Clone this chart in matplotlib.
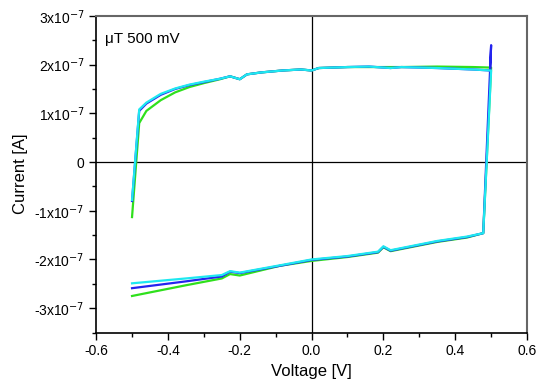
import numpy as np
import matplotlib.pyplot as plt
from matplotlib.ticker import MultipleLocator, FuncFormatter

plt.rcParams['font.family'] = ['Liberation Sans', 'DejaVu Sans']

# sweep voltage (shared by all three runs)
voltage = [-0.5, -0.48, -0.46, -0.42, -0.38, -0.34, -0.3, -0.255, -0.227, -0.2, -0.18, -0.14,
           -0.08, -0.03, 0.0, 0.02, 0.1, 0.16, 0.22, 0.25, 0.35, 0.45, 0.497, 0.5,
           0.478, 0.433, 0.35, 0.22, 0.2, 0.185, 0.1, 0.0, -0.088, -0.2, -0.227, -0.25, -0.35, -0.5]

# currents in units of 1e-7 A
i_green = [-1.13, 0.80, 1.05, 1.27, 1.43, 1.54, 1.62, 1.70, 1.76, 1.70, 1.80, 1.84,
           1.88, 1.90, 1.88, 1.93, 1.95, 1.95, 1.95, 1.95, 1.96, 1.95, 1.94, 1.94,
           -1.46, -1.55, -1.64, -1.83, -1.75, -1.86, -1.95, -2.03, -2.13, -2.33, -2.30, -2.39, -2.53, -2.75]
i_blue = [-0.80, 1.05, 1.20, 1.38, 1.50, 1.58, 1.64, 1.71, 1.76, 1.70, 1.80, 1.84,
          1.88, 1.90, 1.88, 1.93, 1.95, 1.96, 1.93, 1.95, 1.93, 1.90, 1.88, 2.40,
          -1.46, -1.54, -1.63, -1.82, -1.74, -1.85, -1.94, -2.01, -2.13, -2.28, -2.25, -2.35, -2.45, -2.59]
i_cyan = [-0.78, 1.08, 1.22, 1.40, 1.51, 1.59, 1.65, 1.71, 1.76, 1.70, 1.80, 1.84,
          1.88, 1.90, 1.88, 1.93, 1.95, 1.96, 1.93, 1.95, 1.93, 1.90, 1.88, 1.88,
          -1.46, -1.53, -1.62, -1.81, -1.73, -1.84, -1.93, -2.00, -2.12, -2.27, -2.24, -2.32, -2.39, -2.49]

fig = plt.figure(figsize=(5.4, 3.88), dpi=100)
ax = fig.add_axes([0.178, 0.143, 0.798, 0.816])

v = np.array(voltage)
for cur, col in [(i_green, '#2fe01c'), (i_blue, '#2424ee'), (i_cyan, '#1ee8f0')]:
    ax.plot(v, np.array(cur) * 1e-7, color=col, lw=1.6)

ax.axhline(0, color='black', lw=0.9, zorder=0)
ax.axvline(0, color='black', lw=0.9, zorder=0)

ax.set_xlim(-0.6, 0.6)
ax.set_ylim(-3.5e-7, 3e-7)
ax.xaxis.set_major_locator(MultipleLocator(0.2))
ax.xaxis.set_minor_locator(MultipleLocator(0.1))
ax.yaxis.set_major_locator(MultipleLocator(1e-7))
ax.yaxis.set_minor_locator(MultipleLocator(0.5e-7))
ax.xaxis.set_major_formatter(FuncFormatter(lambda x, p: '%.1f' % x))

def yfmt(y, p):
    n = int(round(y / 1e-7))
    if n == 0:
        return '0'
    return r'%dx10$^{-7}$' % n
ax.yaxis.set_major_formatter(FuncFormatter(yfmt))

ax.tick_params(which='major', direction='out', length=5, width=1, labelsize=10)
ax.tick_params(which='minor', direction='out', length=3, width=1)
for s in ['top', 'right']:
    ax.spines[s].set_color('#666666')
    ax.spines[s].set_linewidth(1.5)
for s in ['left', 'bottom']:
    ax.spines[s].set_linewidth(1.2)

ax.set_xlabel('Voltage [V]', fontsize=12)
ax.set_ylabel('Current [A]', fontsize=12)
ax.text(0.02, 0.95, 'μT 500 mV', transform=ax.transAxes, fontsize=11, va='top', ha='left')

fig.savefig('out.png', dpi=100)
